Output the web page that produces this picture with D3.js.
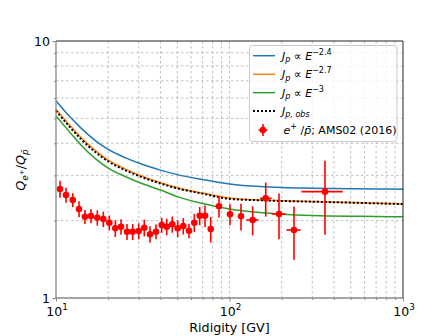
<!DOCTYPE html>
<html><head><meta charset="utf-8">
<script src="https://cdn.jsdelivr.net/npm/d3@7/dist/d3.min.js"></script>
<style>body{margin:0;background:#fff}svg{display:block}</style>
</head><body><svg id="c" width="448" height="336"></svg>
<script>
// ---- data ----
const curveR   = [10,12,14,17,20,25,30,40,50,70,100,150,200,300,500,700,1000];
const fluxE24  = [5.86,5.08,4.57,4.08,3.785,3.518,3.35,3.145,3.02,2.89,2.778,2.713,2.69,2.675,2.662,2.656,2.65];
const fluxE27  = [5.43,4.70,4.20,3.73,3.44,3.18,3.01,2.81,2.685,2.56,2.45,2.405,2.39,2.372,2.352,2.337,2.322];
const fluxE30  = [5.11,4.42,3.92,3.47,3.20,2.97,2.82,2.63,2.48,2.33,2.22,2.15,2.12,2.095,2.08,2.075,2.07];
const fluxObs  = [5.35,4.63,4.14,3.68,3.40,3.145,2.985,2.79,2.67,2.548,2.43,2.40,2.385,2.37,2.35,2.335,2.32];
const amsR   = [10.55,11.42,12.49,13.57,14.69,15.91,17.30,18.74,20.29,21.97,23.70,25.66,27.67,29.98,32.28,34.83,37.71,40.67,43.45,46.81,50.28,54.17,58.42,62.68,67.33,72.25,77.93,87.0,100.7,116.5,136.0,161.7,192.9,235.4,355.1];
const amsY   = [2.656,2.516,2.406,2.220,2.072,2.085,2.053,2.029,1.963,1.867,1.894,1.811,1.811,1.822,1.877,1.770,1.811,1.923,1.894,1.935,1.867,1.906,1.827,1.963,2.090,2.090,1.855,2.275,2.117,2.079,2.012,2.443,2.123,1.839,2.593];
const amsErr = [0.20,0.17,0.15,0.16,0.13,0.13,0.14,0.14,0.13,0.14,0.13,0.13,0.13,0.13,0.14,0.13,0.12,0.13,0.14,0.14,0.14,0.14,0.12,0.16,0.17,0.20,0.21,0.22,0.20,0.25,0.26,0.37,0.43,0.43,0.83];
const amsLo  = [null,null,null,null,null,null,null,null,null,null,null,null,null,null,null,null,null,null,null,null,null,null,null,null,null,null,null,null,null,null,125,150,175,213,260];
const amsHi  = [null,null,null,null,null,null,null,null,null,null,null,null,null,null,null,null,null,null,null,null,null,null,null,null,null,null,null,null,null,null,147,175,211,257,450];
const xMajor = [10,100,1000];
const xMajorExp = ["1","2","3"];
const yMajor = [1,10];
const yMajorLabels = ["1","10"];

// ---- chart ----
const svg = d3.select("#c");
const FONT = "DejaVu Sans, sans-serif";
const L=56,R=403,T=41,B=298;
const x = d3.scaleLog().domain([10,1000]).range([L,R]);
const y = d3.scaleLog().domain([1,10]).range([B,T]);

const grid = svg.append("g").attr("stroke","#b0b0b0").attr("stroke-width",0.8).attr("stroke-dasharray","2.5,2.5");
x.ticks().filter(v=>v>10&&v<1000).forEach(v=>grid.append("line").attr("x1",x(v)).attr("x2",x(v)).attr("y1",T).attr("y2",B));
y.ticks().filter(v=>v>1&&v<10).forEach(v=>grid.append("line").attr("y1",y(v)).attr("y2",y(v)).attr("x1",L).attr("x2",R));

const line = (vals)=>d3.line().x((d,i)=>x(curveR[i])).y(d=>y(d)).curve(d3.curveMonotoneX)(vals);
svg.append("path").attr("d",line(fluxE24)).attr("fill","none").attr("stroke","#1f77b4").attr("stroke-width",1.5);
svg.append("path").attr("d",line(fluxE27)).attr("fill","none").attr("stroke","#ff7f0e").attr("stroke-width",1.5);
svg.append("path").attr("d",line(fluxE30)).attr("fill","none").attr("stroke","#2ca02c").attr("stroke-width",1.5);
svg.append("path").attr("d",line(fluxObs)).attr("fill","none").attr("stroke","#000").attr("stroke-width",2).attr("stroke-dasharray","2,2");

const eb = svg.append("g");
amsR.forEach((r,i)=>{
  eb.append("line").attr("x1",x(r)).attr("x2",x(r)).attr("y1",y(amsY[i]-amsErr[i])).attr("y2",y(amsY[i]+amsErr[i])).attr("stroke","#ff0000").attr("stroke-width",1.6);
  if(amsLo[i]!=null) eb.append("line").attr("x1",x(amsLo[i])).attr("x2",x(amsHi[i])).attr("y1",y(amsY[i])).attr("y2",y(amsY[i])).attr("stroke","#ff0000").attr("stroke-width",1.6);
  eb.append("circle").attr("cx",x(r)).attr("cy",y(amsY[i])).attr("r",3.3).attr("fill","#ff0000");
});

// spines
svg.append("line").attr("x1",L).attr("x2",R).attr("y1",T).attr("y2",T).attr("stroke","#222").attr("stroke-width",1);
svg.append("line").attr("x1",R).attr("x2",R).attr("y1",T).attr("y2",B).attr("stroke","#222").attr("stroke-width",1);
svg.append("line").attr("x1",L).attr("x2",L).attr("y1",T).attr("y2",B).attr("stroke","#888").attr("stroke-width",1.3);
svg.append("line").attr("x1",L).attr("x2",R).attr("y1",B).attr("y2",B).attr("stroke","#888").attr("stroke-width",1.3);

// ticks
const xa = d3.axisBottom(x).tickValues(xMajor).tickSize(3.5).tickFormat("");
const xm = d3.axisBottom(x).tickValues(x.ticks().filter(v=>!xMajor.includes(v))).tickSize(2).tickFormat("");
const ya = d3.axisLeft(y).tickValues(yMajor).tickSize(3.5).tickFormat("");
const ym = d3.axisLeft(y).tickValues(y.ticks().filter(v=>!yMajor.includes(v))).tickSize(2).tickFormat("");
[[xa,`translate(0,${B})`],[xm,`translate(0,${B})`],[ya,`translate(${L},0)`],[ym,`translate(${L},0)`]].forEach(([a,t])=>{
  const g=svg.append("g").attr("transform",t).call(a);
  g.select(".domain").remove(); g.selectAll("line").attr("stroke","#888");
});

function mtext(parent, segs, attrs){
  const t = parent.append("text").attr("font-family",FONT);
  Object.entries(attrs).forEach(([k,v])=>t.attr(k,v));
  let cur=0;
  segs.forEach(s=>{
    const sh = s.shift||0;
    const ts = t.append("tspan").text(s.t).attr("dy",-(sh-cur)).attr("font-size",s.size).attr("font-style",s.it?"italic":"normal");
    cur=sh;
  });
  return t;
}

xMajor.forEach((v,i)=>{
  mtext(svg,[{t:"10",size:12.5},{t:xMajorExp[i],size:8.8,shift:5.5}],{x:x(v)+1,y:315.5,"text-anchor":"middle",fill:"#000"});
});
yMajor.forEach((v,i)=>{
  svg.append("text").attr("x",50).attr("y",y(v)+4.5).attr("text-anchor","end").attr("font-family",FONT).attr("font-size",12.5).text(yMajorLabels[i]);
});

svg.append("text").attr("x",229.5).attr("y",331.5).attr("text-anchor","middle").attr("font-family",FONT).attr("font-size",12.7).text("Ridigity [GV]");
mtext(svg,[{t:"Q",it:1,size:12.7},{t:"e",it:1,size:9,shift:-3},{t:"+",size:7,shift:1.5},{t:"/",size:12.7,shift:0},{t:"Q",it:1,size:12.7},{t:"p\u0304",it:1,size:9,shift:-3}],
  {transform:"translate(25,170) rotate(-90)","text-anchor":"middle"});

// legend
const lg = svg.append("g");
lg.append("rect").attr("x",249.5).attr("y",45.5).attr("width",147.5).attr("height",96).attr("rx",3).attr("fill","#fff").attr("fill-opacity",0.8).attr("stroke","#cccccc");
const rows=[55.7,74.3,92.7,110.9,130];
const lcols=["#1f77b4","#ff7f0e","#2ca02c"];
const exps=["\u22122.4","\u22122.7","\u22123"];
for(let i=0;i<3;i++){
  lg.append("line").attr("x1",253).attr("x2",275).attr("y1",rows[i]).attr("y2",rows[i]).attr("stroke",lcols[i]).attr("stroke-width",1.5);
  mtext(lg,[{t:"J",it:1,size:11},{t:"p",it:1,size:8,shift:-2.5},{t:" \u221D ",size:11,shift:0},{t:"E",it:1,size:11},{t:exps[i],size:8,shift:5}],{x:282,y:rows[i]+4});
}
lg.append("line").attr("x1",253).attr("x2",275).attr("y1",rows[3]).attr("y2",rows[3]).attr("stroke","#000").attr("stroke-width",2).attr("stroke-dasharray","2,2");
mtext(lg,[{t:"J",it:1,size:11},{t:"p, obs",it:1,size:8,shift:-2.5}],{x:282,y:rows[3]+4});
lg.append("line").attr("x1",263).attr("x2",263).attr("y1",rows[4]-6).attr("y2",rows[4]+6).attr("stroke","#ff0000").attr("stroke-width",1.6);
lg.append("line").attr("x1",258.5).attr("x2",267.5).attr("y1",rows[4]).attr("y2",rows[4]).attr("stroke","#ff0000").attr("stroke-width",1.6);
lg.append("circle").attr("cx",263).attr("cy",rows[4]).attr("r",3.3).attr("fill","#ff0000");
mtext(lg,[{t:"e",it:1,size:11},{t:"+",size:8,shift:5},{t:" /",size:11,shift:0},{t:"p\u0304",it:1,size:11},{t:"; AMS02 (2016)",size:11}],{x:283.5,y:rows[4]+4});
</script></body></html>
